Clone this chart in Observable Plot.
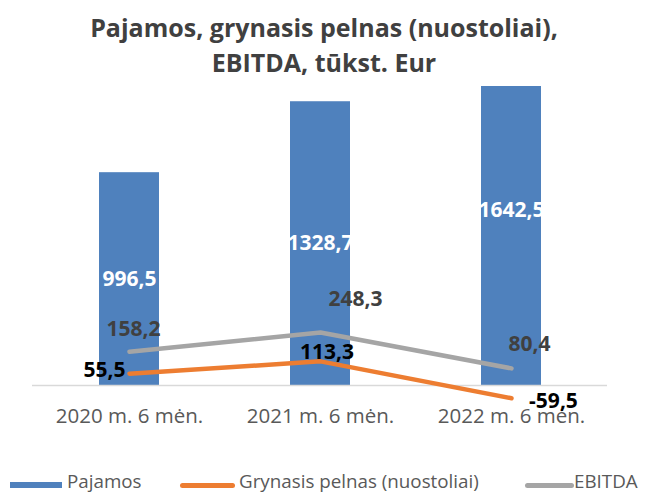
<!DOCTYPE html>
<html><head><meta charset="utf-8">
<script src="https://cdn.jsdelivr.net/npm/d3@7"></script>
<script src="https://cdn.jsdelivr.net/npm/@observablehq/plot@0.6"></script>
<style>
body{margin:0;background:#fff;width:648px;height:494px;overflow:hidden;font-family:"Open Sans",sans-serif;}
#title{font-weight:700;font-size:25px;line-height:35px;color:#404040;text-align:center;padding-top:9.5px;height:70.5px;white-space:nowrap;}
#chart{height:370px;}
#legend{position:relative;height:22px;margin-top:20px;font-size:18.8px;line-height:22px;color:#595959;}
#legend span{position:absolute;top:0;white-space:nowrap;}
#legend i{position:absolute;display:block;}
</style></head>
<body>
<div id="title">Pajamos, grynasis pelnas (nuostoliai),<br>EBITDA, tūkst. Eur</div>
<div id="chart"></div>
<div id="legend">
  <i style="left:10px;top:11.5px;width:52px;height:6px;background:#4F81BD"></i>
  <span style="left:67px">Pajamos</span>
  <i style="left:180px;top:12.5px;width:55px;height:5px;border-radius:3px;background:#ED7D31"></i>
  <span style="left:239px">Grynasis pelnas (nuostoliai)</span>
  <i style="left:525px;top:12.5px;width:49px;height:5px;border-radius:3px;background:#A5A5A5"></i>
  <span style="left:574px">EBITDA</span>
</div>
<script>
const categories = ["2020 m. 6 mėn.", "2021 m. 6 mėn.", "2022 m. 6 mėn."];
const pajamos = [996.5, 1328.7, 1642.5];
const pelnas = [55.5, 113.3, -59.5];
const ebitda = [158.2, 248.3, 80.4];

const rows = categories.map((c, i) => ({cat: c, pajamos: pajamos[i], pelnas: pelnas[i], ebitda: ebitda[i]}));
const fmt = v => v.toFixed(1).replace(".", ",");
const F = '"Open Sans", sans-serif';

function lbl(i, key, opts) {
  return Plot.text(rows.filter((d, j) => j === i), {
    x: "cat", y: key, text: d => fmt(d[key]),
    fontFamily: F, fontWeight: 700, fontSize: 21, ...opts
  });
}

const plot = Plot.plot({
  width: 648, height: 370,
  marginTop: 6, marginBottom: 46.8, marginLeft: 32, marginRight: 41,
  x: {domain: categories, paddingInner: 0.687, paddingOuter: 0.3435},
  y: {domain: [-85, 1400], axis: null},
  style: {fontFamily: F, background: "transparent", overflow: "visible"},
  marks: [
    Plot.barY(rows, {x: "cat", y: "pajamos", fill: "#4F81BD", clip: true}),
    Plot.ruleY([0], {stroke: "#D9D9D9", strokeWidth: 1.5}),
    Plot.axisX({tickSize: 0, tickPadding: 4.5, fontSize: 20.5, color: "#595959", label: null}),
    Plot.text(rows, {x: "cat", y: d => d.pajamos / 2, text: d => fmt(d.pajamos), fill: "white", fontWeight: 700, fontSize: 21, fontFamily: F}),
    Plot.line(rows, {x: "cat", y: "ebitda", stroke: "#A5A5A5", strokeWidth: 4.5, strokeLinecap: "round", strokeLinejoin: "round"}),
    Plot.line(rows, {x: "cat", y: "pelnas", stroke: "#ED7D31", strokeWidth: 4.5, strokeLinecap: "round", strokeLinejoin: "round"}),
    lbl(0, "ebitda", {fill: "#404040", dx: 4, dy: -22}),
    lbl(1, "ebitda", {fill: "#404040", dx: 35, dy: -33.5}),
    lbl(2, "ebitda", {fill: "#404040", dx: 18, dy: -24}),
    lbl(0, "pelnas", {fill: "#000", textAnchor: "end", dx: -4, dy: -3}),
    lbl(1, "pelnas", {fill: "#000", dx: 6.5, dy: -9}),
    lbl(2, "pelnas", {fill: "#000", dx: 42, dy: 3})
  ]
});
document.getElementById("chart").appendChild(plot);
</script>
</body></html>
